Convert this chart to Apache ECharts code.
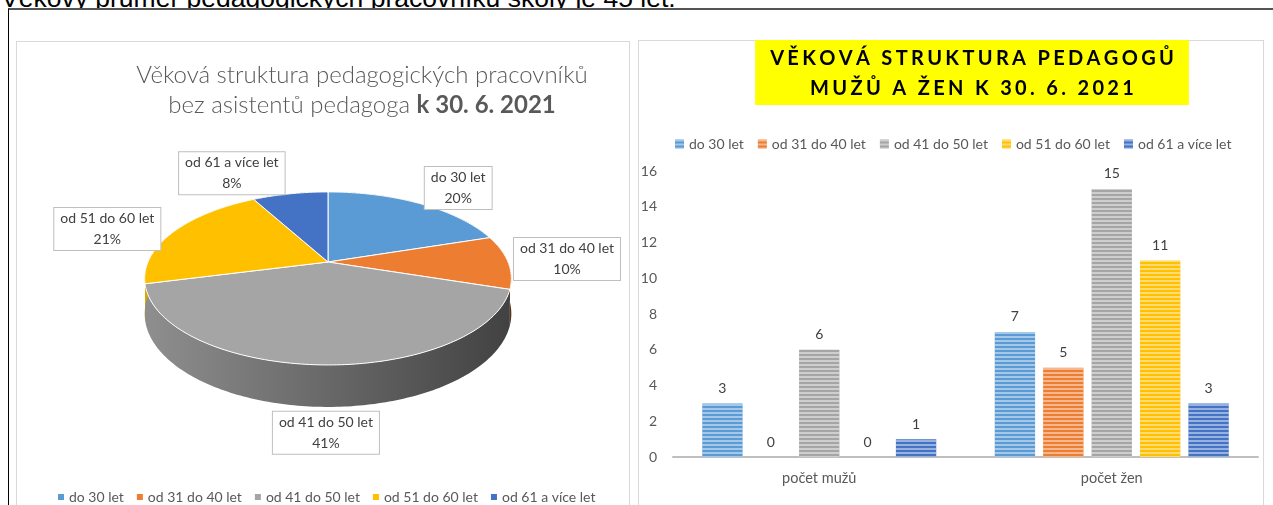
<!DOCTYPE html>
<html>
<head>
<meta charset="utf-8">
<script src="https://cdn.jsdelivr.net/npm/echarts@6/dist/echarts.min.js"></script>
<style>
  html, body { margin: 0; background: #fff; overflow: hidden; width: 1273px; height: 505px; }
  #topline { position: absolute; left: 1px; top: -17px; font: 26.5px 'Liberation Sans', Arial, sans-serif; line-height: 30px; color: #000; white-space: nowrap; }
  #frame { position: absolute; left: 8px; top: 8px; width: 1265px; height: 497px; border-left: 1px solid #000; border-top: 2px solid #555; background: #fff; box-sizing: border-box; }
  .panel { position: absolute; border: 1px solid #d9d9d9; background: #fff; }
  .chart { position: absolute; left: 0; top: 0; width: 1273px; height: 505px; }
</style>
</head>
<body>
<div id="topline">Věkový průměr pedagogických pracovníků školy je 45 let.</div>
<div id="frame"></div>
<div class="panel" style="left:16px;top:41px;width:612px;height:500px"></div>
<div class="panel" style="left:638px;top:40px;width:624px;height:500px"></div>
<div id="pie" class="chart"></div>
<div id="bar" class="chart"></div>
<script>
// data
var ageGroups = ['do 30 let', 'od 31 do 40 let', 'od 41 do 50 let', 'od 51 do 60 let', 'od 61 a více let'];
var pieShares = [20, 10, 41, 21, 8];
var barCategories = ['počet mužů', 'počet žen'];
var menCounts = [3, 0, 6, 0, 1];
var womenCounts = [7, 5, 15, 11, 3];

var colors = ['#5B9BD5', '#ED7D31', '#A5A5A5', '#FFC000', '#4472C4'];
var font = 'Lato';

// 3D pie geometry (perspective disk)
var cx = 328, cy = 262, RA = 180, RB = 83.4, K = 0.19, DEPTH = 34;
var labelShift = [[11, 2], [5, -3], [7, -5], [-21, 7], [-47, 0]];

var total = pieShares.reduce(function (a, b) { return a + b; }, 0);
var startAngles = [];
(function () {
    var acc = 0;
    pieShares.forEach(function (v) { startAngles.push(acc); acc += v / total * 360; });
})();

function proj(deg, depth, r) {
    var t = deg * Math.PI / 180;
    var u = Math.sin(t), v = -Math.cos(t);
    var s = 1 / (1 - K * v);
    r = r || 1;
    return [cx + RA * u * s * r, cy + (RB * v * r + depth) * s];
}
function arc(a0, a1, depth) {
    var pts = [];
    var n = Math.max(2, Math.ceil(Math.abs(a1 - a0)));
    for (var j = 0; j <= n; j++) pts.push(proj(a0 + (a1 - a0) * j / n, depth));
    return pts;
}
function shade(hex, f) {
    var n = parseInt(hex.slice(1), 16);
    var r = Math.round(((n >> 16) & 255) * f), g = Math.round(((n >> 8) & 255) * f), b = Math.round((n & 255) * f);
    return 'rgb(' + r + ',' + g + ',' + b + ')';
}

var pieChart = echarts.init(document.getElementById('pie'));
var barChart = echarts.init(document.getElementById('bar'));

function drawPie() {
    var option = {
        animation: false,
        title: {
            text: 'Věková struktura pedagogických pracovníků\nbez asistentů pedagoga {b|k 30. 6. 2021}',
            left: 362,
            top: 60,
            textAlign: 'center',
            padding: 0,
            textStyle: {
                fontFamily: font, fontSize: 24, fontWeight: 300, color: '#595959', lineHeight: 30,
                rich: { b: { fontFamily: font, fontSize: 24, fontWeight: 'bold', color: '#595959', lineHeight: 30 } }
            }
        },
        legend: {
            left: 58,
            top: 490,
            padding: 0,
            icon: 'rect',
            itemWidth: 6,
            itemHeight: 6,
            itemGap: 13,
            selectedMode: false,
            textStyle: { fontFamily: font, fontSize: 14, color: '#595959' },
            data: ageGroups
        },
        series: [
            {
                // only feeds the legend
                type: 'pie',
                silent: true,
                center: [-500, -500],
                radius: [0, 1],
                label: { show: false },
                data: pieShares.map(function (v, i) { return { value: v, name: ageGroups[i], itemStyle: { color: colors[i] } }; })
            },
            {
                type: 'custom',
                coordinateSystem: 'none',
                silent: true,
                data: pieShares.map(function (v, i) { return { value: v, name: ageGroups[i] }; }),
                renderItem: function (params, api) {
                    var i = params.dataIndex;
                    var a0 = startAngles[i];
                    var a1 = a0 + pieShares[i] / total * 360;
                    var topArc = arc(a0, a1, 0);
                    var side = topArc.concat(arc(a1, a0, DEPTH));
                    var mid = (a0 + a1) / 2;
                    var front = -Math.cos(mid * Math.PI / 180) > 0.5;
                    var lp = proj(mid, front ? DEPTH : 0, 1.3);
                    return {
                        type: 'group',
                        children: [
                            {
                                type: 'polygon',
                                z2: 1,
                                shape: { points: side },
                                style: {
                                    fill: {
                                        type: 'linear', x: cx - RA, y: 0, x2: cx + RA, y2: 0, global: true,
                                        colorStops: [
                                            { offset: 0, color: shade(colors[i], 0.86) },
                                            { offset: 1, color: shade(colors[i], 0.4) }
                                        ]
                                    }
                                }
                            },
                            {
                                type: 'polygon',
                                z2: 10,
                                shape: { points: [[cx, cy]].concat(topArc) },
                                style: { fill: colors[i], stroke: '#fff', lineWidth: 1 }
                            },
                            {
                                type: 'text',
                                z2: 20,
                                x: lp[0] + labelShift[i][0],
                                y: lp[1] + labelShift[i][1],
                                style: {
                                    text: ageGroups[i] + '\n' + pieShares[i] + '%',
                                    fontFamily: font, fontSize: 14, fill: '#404040',
                                    align: 'center', verticalAlign: 'middle', lineHeight: 21,
                                    backgroundColor: '#fff', borderColor: '#bfbfbf', borderWidth: 1,
                                    padding: [0, 6]
                                }
                            }
                        ]
                    };
                }
            }
        ]
    };
    pieChart.setOption(option);
}

function spaced(s) {
    return s.split('').join('\u2006');
}

function drawBars() {
    var stripes = { symbol: 'rect', symbolSize: 1, dashArrayX: [1, 0], dashArrayY: [2, 2], rotation: 0, color: 'rgba(255,255,255,0.45)' };
    var option = {
        animation: false,
        title: {
            text: spaced('VĚKOVÁ STRUKTURA PEDAGOGŮ') + '\n' + spaced('MUŽŮ A ŽEN K 30. 6. 2021'),
            left: 957,
            top: 40,
            textAlign: 'center',
            backgroundColor: '#FFFF00',
            padding: [4, 15, 1, 15],
            textStyle: { fontFamily: font, fontSize: 20, fontWeight: 'bold', color: '#000', lineHeight: 30 }
        },
        legend: {
            left: 675,
            top: 137,
            padding: 0,
            icon: 'rect',
            itemWidth: 9,
            itemHeight: 9,
            itemGap: 14,
            selectedMode: false,
            textStyle: { fontFamily: font, fontSize: 14, color: '#595959' },
            data: ageGroups
        },
        grid: { left: 673, right: 15, top: 171, bottom: 48 },
        xAxis: {
            type: 'category',
            data: barCategories,
            axisLine: { lineStyle: { color: '#bfbfbf', width: 2 } },
            axisTick: { show: false },
            axisLabel: { fontFamily: font, fontSize: 14.5, color: '#595959', margin: 14 }
        },
        yAxis: {
            type: 'value',
            min: 0,
            max: 16,
            interval: 2,
            axisLine: { show: false },
            axisTick: { show: false },
            splitLine: { show: false },
            axisLabel: { fontFamily: font, fontSize: 14, color: '#595959', margin: 16 }
        },
        series: ageGroups.map(function (name, i) {
            return {
                name: name,
                type: 'bar',
                data: [menCounts[i], womenCounts[i]],
                barGap: '20%',
                barCategoryGap: '20%',
                itemStyle: { color: colors[i], decal: stripes },
                label: { show: true, position: 'top', distance: 8, fontFamily: font, fontSize: 14, color: '#404040' }
            };
        })
    };
    barChart.setOption(option);
}

drawPie();
drawBars();
</script>
</body>
</html>
